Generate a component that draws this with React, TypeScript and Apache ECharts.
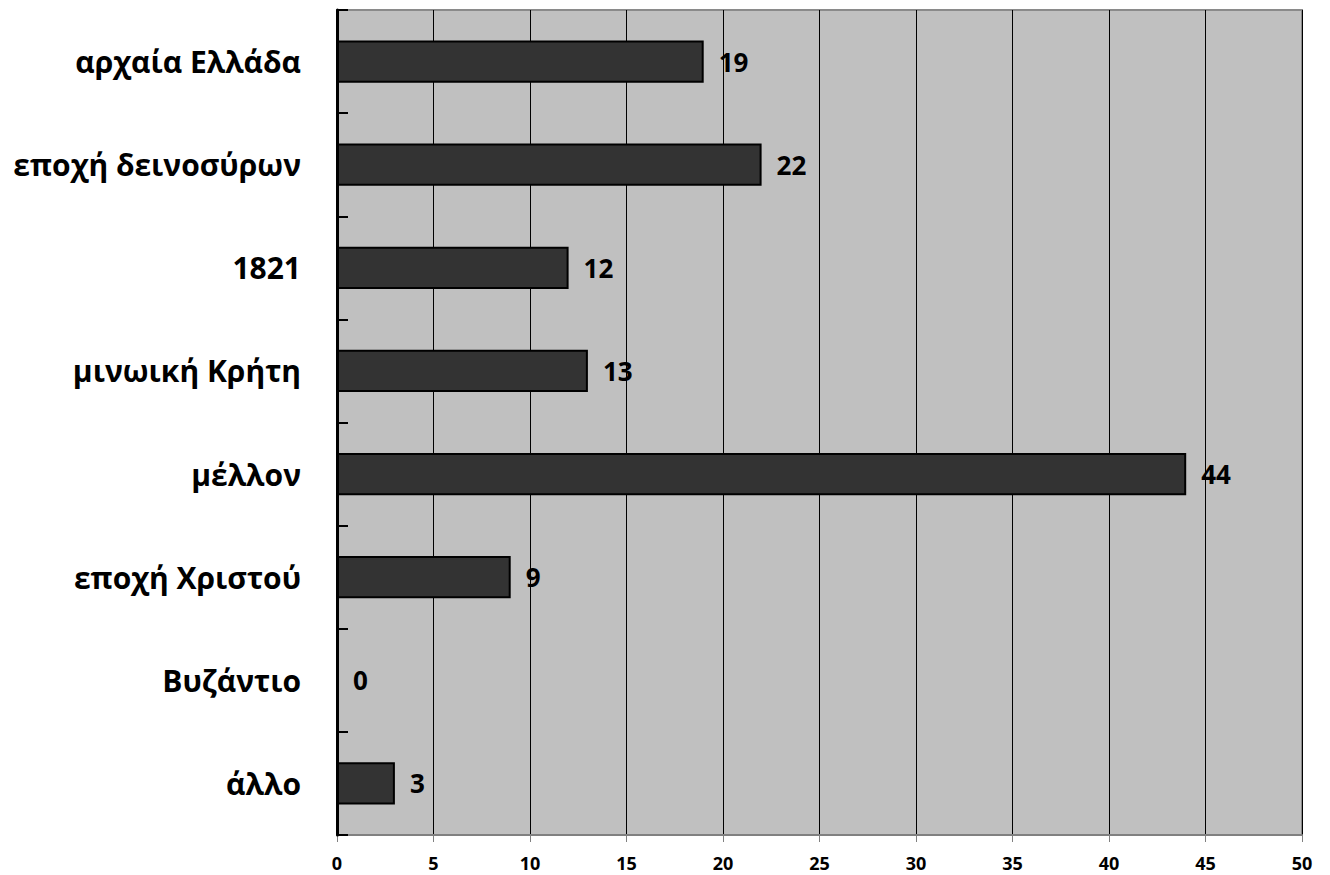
import React, { useEffect, useRef } from "react";
import * as echarts from "echarts";

const categories = [
  "αρχαία Ελλάδα",
  "εποχή δεινοσύρων",
  "1821",
  "μινωική Κρήτη",
  "μέλλον",
  "εποχή Χριστού",
  "Βυζάντιο",
  "άλλο",
];
const values = [19, 22, 12, 13, 44, 9, 0, 3];
const xMin = 0;
const xMax = 50;
const xStep = 5;

export default function App() {
  const ref = useRef<HTMLDivElement>(null);
  useEffect(() => {
    if (!ref.current) return;
    const chart = echarts.init(ref.current, undefined, { renderer: "svg" });
    const font = "'Open Sans', 'Noto Sans', sans-serif";
    chart.setOption({
      animation: false,
      textStyle: { fontFamily: font },
      grid: {
        left: 337,
        right: 28,
        top: 10,
        bottom: 40,
        show: true,
        backgroundColor: "#c0c0c0",
        borderColor: "#8a8a8a",
        borderWidth: 2,
        outerBoundsMode: "none",
      },
      xAxis: {
        type: "value",
        min: xMin,
        max: xMax,
        interval: xStep,
        axisLine: { show: true, lineStyle: { color: "#808080", width: 2 } },
        axisTick: { show: true, length: 7, lineStyle: { color: "#808080", width: 1 } },
        splitLine: { show: true, lineStyle: { color: "#000", width: 1 } },
        axisLabel: {
          show: true,
          color: "#000",
          fontWeight: "bold",
          fontSize: 18,
          lineHeight: 18,
          fontFamily: font,
          margin: 19,
        },
      },
      yAxis: {
        type: "category",
        inverse: true,
        data: categories,
        axisLine: { show: true, lineStyle: { color: "#000", width: 3 } },
        axisTick: { show: true, inside: true, length: 11, lineStyle: { color: "#000", width: 2 } },
        axisLabel: {
          color: "#000",
          fontWeight: "bold",
          fontSize: 30,
          fontFamily: font,
          margin: 36,
        },
        z: 5,
      },
      series: [
        {
          type: "bar",
          data: values,
          barWidth: "41%",
          itemStyle: { color: "#333333", borderColor: "#000", borderWidth: 2 },
          label: {
            show: true,
            position: "right",
            distance: 15,
            color: "#000",
            fontWeight: "bold",
            fontSize: 26,
            fontFamily: font,
          },
        },
      ],
    });
    return () => chart.dispose();
  }, []);
  return (
    <div
      ref={ref}
      style={{ position: "fixed", left: 0, top: 0, width: 1330, height: 875, background: "#fff" }}
    />
  );
}
